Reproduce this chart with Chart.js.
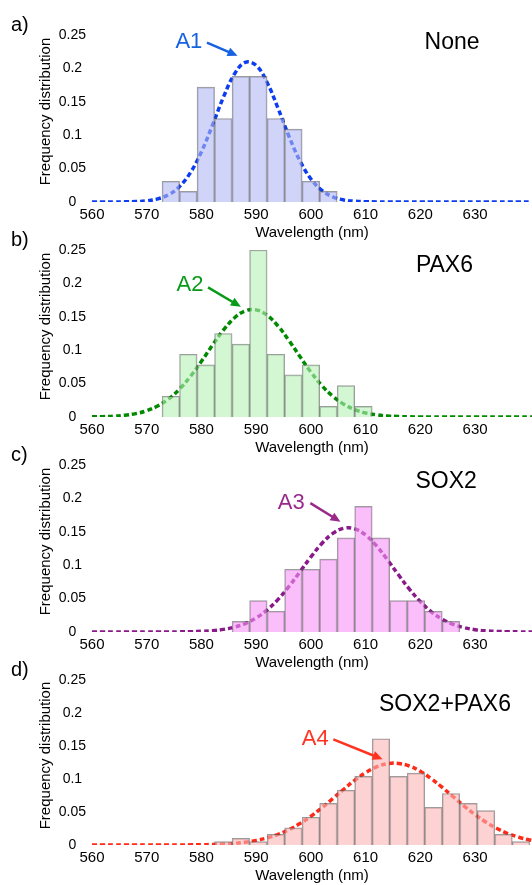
<!DOCTYPE html>
<html>
<head>
<meta charset="utf-8">
<script src="https://cdn.jsdelivr.net/npm/chart.js@4.4.1/dist/chart.umd.min.js"></script>
<style>
    html, body { margin: 0; padding: 0; background: #fff; }
    body { width: 532px; height: 885px; position: relative; overflow: hidden; }
    canvas { position: absolute; left: 0; }
</style>
</head>
<body>
<canvas id="panel0" width="532" height="242" style="top:0px"></canvas>
<canvas id="panel1" width="532" height="242" style="top:215px"></canvas>
<canvas id="panel2" width="532" height="242" style="top:430px"></canvas>
<canvas id="panel3" width="532" height="240" style="top:645px"></canvas>
<script>
const xTicks = [560, 570, 580, 590, 600, 610, 620, 630]
const yTicks = [0, 0.05, 0.1, 0.15, 0.2, 0.25]
const yTickLabels = ['0', '0.05', '0.1', '0.15', '0.2', '0.25']

const panelLetters = ['a)', 'b)', 'c)', 'd)']
const panelNames = ['None', 'PAX6', 'SOX2', 'SOX2+PAX6']
const peakNames = ['A1', 'A2', 'A3', 'A4']

// histogram bin centres (nm) and frequencies
const binsNone = [574.4, 577.6, 580.8, 584.0, 587.2, 590.4, 593.6, 596.8, 600.0, 603.2]
const freqNone = [0.031, 0.016, 0.172, 0.125, 0.188, 0.188, 0.125, 0.109, 0.031, 0.016]

const binsPax6 = [574.4, 577.6, 580.8, 584.0, 587.2, 590.4, 593.6, 596.8, 600.0, 603.2, 606.4, 609.6]
const freqPax6 = [0.031, 0.094, 0.078, 0.125, 0.109, 0.25, 0.094, 0.063, 0.078, 0.016, 0.047, 0.016]

const binsSox2 = [587.2, 590.4, 593.6, 596.8, 600.0, 603.2, 606.4, 609.6, 612.8, 616.0, 619.2, 622.4, 625.6]
const freqSox2 = [0.016, 0.047, 0.031, 0.094, 0.094, 0.109, 0.141, 0.188, 0.141, 0.047, 0.047, 0.031, 0.016]

const binsBoth = [584.0, 587.2, 590.4, 593.6, 596.8, 600.0, 603.2, 606.4, 609.6, 612.8, 616.0, 619.2, 622.4, 625.6, 628.8, 632.0, 635.2, 638.4]
const freqBoth = [0.005, 0.010, 0.005, 0.016, 0.026, 0.042, 0.063, 0.083, 0.104, 0.161, 0.104, 0.109, 0.057, 0.078, 0.063, 0.052, 0.016, 0.005]

// dashed fit curves, every 2 nm
const curveX = [560, 562, 564, 566, 568, 570, 572, 574, 576, 578, 580, 582, 584, 586, 588, 590, 592, 594, 596, 598, 600,
                602, 604, 606, 608, 610, 612, 614, 616, 618, 620, 622, 624, 626, 628, 630, 632, 634, 636, 638, 640, 642]
const fitNone = [0, 0, 0, 0.0002, 0.0006, 0.0017, 0.0046, 0.0109, 0.0232, 0.0441, 0.0752, 0.1147, 0.1565, 0.1912, 0.209, 0.2044, 0.1789, 0.1401, 0.0981, 0.0615, 0.0345,
                 0.0173, 0.0078, 0.0031, 0.0011, 0.0004, 0.0001, 0, 0, 0, 0, 0, 0, 0, 0, 0, 0, 0, 0, 0, 0, 0]
const fitPax6 = [0.0002, 0.0005, 0.0012, 0.0026, 0.0051, 0.0094, 0.0165, 0.027, 0.0418, 0.0609, 0.0833, 0.1073, 0.13, 0.1482, 0.1589, 0.1604, 0.1523, 0.1361, 0.1144, 0.0904, 0.0672,
                 0.0471, 0.031, 0.0192, 0.0112, 0.0061, 0.0032, 0.0015, 0.0007, 0.0003, 0.0001, 0, 0, 0, 0, 0, 0, 0, 0, 0, 0, 0]
const fitSox2 = [0, 0, 0, 0, 0, 0, 0, 0, 0.0002, 0.0004, 0.001, 0.002, 0.0039, 0.0073, 0.0127, 0.0211, 0.033, 0.0488, 0.0683, 0.0901, 0.1124,
                 0.1325, 0.1476, 0.1553, 0.1544, 0.1451, 0.1288, 0.108, 0.0856, 0.0641, 0.0454, 0.0303, 0.0192, 0.0114, 0.0065, 0.0034, 0.0017, 0.0008, 0.0004, 0.0002, 0.0001, 0]
const fitBoth = [0, 0, 0, 0, 0, 0, 0, 0, 0.0001, 0.0002, 0.0004, 0.0008, 0.0015, 0.0026, 0.0043, 0.007, 0.0108, 0.0162, 0.0233, 0.0324, 0.0435,
                 0.0563, 0.0702, 0.0845, 0.098, 0.1097, 0.1184, 0.1232, 0.1236, 0.1197, 0.1117, 0.1005, 0.0873, 0.0731, 0.059, 0.0459, 0.0345, 0.025, 0.0174, 0.0117, 0.0076, 0.0048]

const FONT = '"Liberation Sans", Arial, Helvetica, sans-serif'

const panels = [
    { bins: binsNone, freq: freqNone, fit: fitNone, line: '#0d3df0', text: '#1662e0', fill: 'rgba(177,183,243,0.6)',
      label: [577.7, 0.240], arrow: [581.0, 0.2385, 586.6, 0.219], name: [625.8, 0.238] },
    { bins: binsPax6, freq: freqPax6, fit: fitPax6, line: '#008a00', text: '#0a9a1a', fill: 'rgba(180,242,180,0.6)',
      label: [577.9, 0.197], arrow: [581.2, 0.194, 587.2, 0.165], name: [624.4, 0.227] },
    { bins: binsSox2, freq: freqSox2, fit: fitSox2, line: '#8a1a8a', text: '#9a2a8a', fill: 'rgba(247,147,247,0.6)',
      label: [596.4, 0.193], arrow: [599.9, 0.193, 605.4, 0.165], name: [624.7, 0.225] },
    { bins: binsBoth, freq: freqBoth, fit: fitBoth, line: '#ff2a18', text: '#ff3322', fill: 'rgba(252,180,180,0.6)',
      label: [600.8, 0.160], arrow: [604.1, 0.160, 613.1, 0.130], name: [624.5, 0.212] }
]

const overlay = {
    id: 'overlay',
    afterDraw(chart, args, o) {
        const { ctx, chartArea, scales } = chart
        const px = v => scales.x.getPixelForValue(v)
        const py = v => scales.y.getPixelForValue(v)
        ctx.save()
        ctx.textBaseline = 'middle'
        ctx.fillStyle = '#000'

        // y axis title sits a little above the middle of the plot
        ctx.save()
        ctx.translate(46, (chartArea.top + chartArea.bottom) / 2 - 7)
        ctx.rotate(-Math.PI / 2)
        ctx.font = '15px ' + FONT
        ctx.textAlign = 'center'
        ctx.fillText('Frequency distribution', 0, 0)
        ctx.restore()

        ctx.font = '20px ' + FONT
        ctx.textAlign = 'left'
        ctx.fillText(o.letter, 11, chartArea.top - 10)
        ctx.font = '23px ' + FONT
        ctx.textAlign = 'center'
        ctx.fillText(o.name, px(o.namePos[0]), py(o.namePos[1]))

        ctx.fillStyle = o.color
        ctx.strokeStyle = o.color
        ctx.font = '22px ' + FONT
        ctx.fillText(o.peak, px(o.labelPos[0]), py(o.labelPos[1]))

        const x1 = px(o.arrow[0]), y1 = py(o.arrow[1]), x2 = px(o.arrow[2]), y2 = py(o.arrow[3])
        const ang = Math.atan2(y2 - y1, x2 - x1)
        const head = 10
        ctx.lineWidth = 2.5
        ctx.beginPath()
        ctx.moveTo(x1, y1)
        ctx.lineTo(x2 - head * 0.8 * Math.cos(ang), y2 - head * 0.8 * Math.sin(ang))
        ctx.stroke()
        ctx.beginPath()
        ctx.moveTo(x2, y2)
        ctx.lineTo(x2 - head * Math.cos(ang) + 4.5 * Math.sin(ang), y2 - head * Math.sin(ang) - 4.5 * Math.cos(ang))
        ctx.lineTo(x2 - head * Math.cos(ang) - 4.5 * Math.sin(ang), y2 - head * Math.sin(ang) + 4.5 * Math.cos(ang))
        ctx.closePath()
        ctx.fill()
        ctx.restore()
    }
}

Chart.defaults.color = '#000'
Chart.defaults.font.family = FONT

function makePanel(i) {
    const p = panels[i]
    const ctx = document.getElementById('panel' + i).getContext('2d')
    new Chart(ctx, {
        type: 'bar',
        data: {
            datasets: [{
                type: 'bar',
                data: p.bins.map((b, k) => ({ x: b, y: p.freq[k] })),
                backgroundColor: p.fill,
                borderColor: 'rgba(90,90,90,0.6)',
                borderWidth: 1,
                barPercentage: 1,
                categoryPercentage: 1,
                order: 1
            }, {
                type: 'line',
                data: curveX.map((c, k) => ({ x: c, y: p.fit[k] })),
                borderColor: p.line,
                borderWidth: 3.5,
                borderDash: [5, 3],
                pointRadius: 0,
                tension: 0.4,
                fill: false,
                clip: 0,
                order: 2
            }]
        },
        options: {
            responsive: false,
            animation: false,
            devicePixelRatio: 1,
            layout: { padding: { top: 35, left: 0, right: 0, bottom: 0 } },
            plugins: {
                legend: { display: false },
                tooltip: { enabled: false },
                overlay: {
                    letter: panelLetters[i], name: panelNames[i], peak: peakNames[i],
                    color: p.text, labelPos: p.label, arrow: p.arrow, namePos: p.name
                }
            },
            scales: {
                x: {
                    type: 'linear',
                    min: 560,
                    max: 640.4,
                    offset: false,
                    grid: { display: false, drawTicks: false },
                    border: { display: false },
                    afterBuildTicks: axis => { axis.ticks = xTicks.map(v => ({ value: v })) },
                    afterFit: axis => { axis.height = 40 },
                    ticks: { padding: 4, maxRotation: 0, autoSkip: false, font: { size: 15 }, callback: v => String(v) },
                    title: { display: true, text: 'Wavelength (nm)', font: { size: 15 }, padding: { top: 0, bottom: 0 } }
                },
                y: {
                    min: 0,
                    max: 0.25,
                    grid: { display: false, drawTicks: false },
                    border: { display: false },
                    afterBuildTicks: axis => { axis.ticks = yTicks.map(v => ({ value: v })) },
                    afterFit: axis => { axis.width = 92 },
                    ticks: {
                        padding: 6,
                        crossAlign: 'center',
                        font: { size: 14 },
                        callback: v => yTickLabels[yTicks.indexOf(v)]
                    },
                    title: { display: false }
                }
            }
        },
        plugins: [overlay]
    })
}

for (let i = 0; i < panels.length; i++) {
    makePanel(i)
}
</script>
</body>
</html>
